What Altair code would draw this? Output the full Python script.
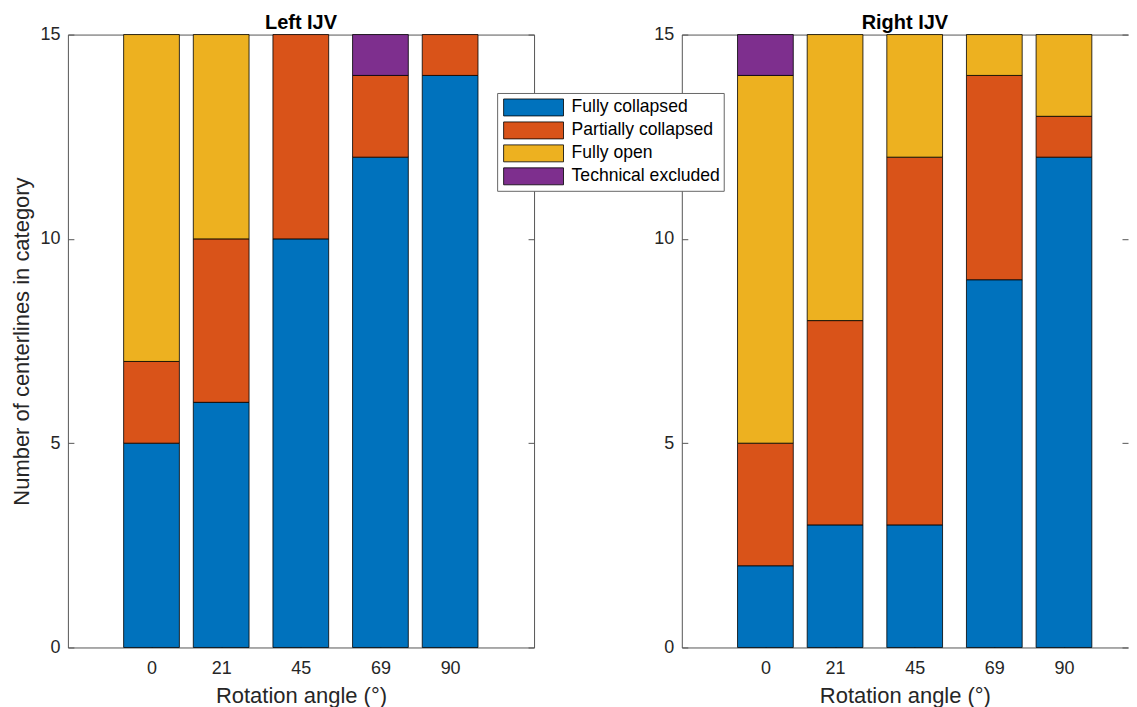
import altair as alt
import pandas as pd

# ---- data ----
angles = [0, 21, 45, 69, 90]
categories = ["Fully collapsed", "Partially collapsed", "Fully open", "Technical excluded"]
colors = ["#0072BD", "#D95319", "#EDB120", "#7E2F8E"]

left_fully_collapsed = [5, 6, 10, 12, 14]
left_partially_collapsed = [2, 4, 5, 2, 1]
left_fully_open = [8, 5, 0, 0, 0]
left_technical_excluded = [0, 0, 0, 1, 0]

right_fully_collapsed = [2, 3, 3, 9, 12]
right_partially_collapsed = [3, 5, 9, 5, 1]
right_fully_open = [9, 7, 3, 1, 2]
right_technical_excluded = [1, 0, 0, 0, 0]

y_ticks = [0, 5, 10, 15]
left_x_domain = [-25.2, 115.3]
right_x_domain = [-25.2, 109.3]
y_domain = [0, 15]
bar_half_width = 8.4

FONT = "Liberation Sans"
FRAME = "#555555"
H = 614
LEFT_W, RIGHT_W = 467, 447


def make_df(series):
    rows = []
    for order, (cat, vals) in enumerate(zip(categories, series)):
        for a, v in zip(angles, vals):
            if v > 0:
                rows.append({"angle": a, "category": cat, "order": order, "count": v})
    return pd.DataFrame(rows)


legend = alt.Legend(
    orient="none", legendX=430, legendY=58.5, title=None,
    symbolType="M-1,-0.283L1,-0.283L1,0.283L-1,0.283Z", symbolSize=3600,
    clipHeight=23, rowPadding=0, symbolOffset=3, labelOffset=7.6, padding=3,
    strokeColor="#666666", fillColor="white",
    labelFont=FONT, labelFontSize=17.6, labelColor="black", labelLimit=400,
    symbolStrokeColor="black", symbolStrokeWidth=0.8, symbolOpacity=1,
)


def panel(df, title, ytitle, x_domain, width, open_right=False):
    xs = alt.Scale(domain=x_domain, nice=False, zero=False)
    ys = alt.Scale(domain=y_domain, nice=False, zero=False)
    base = alt.Chart(df).transform_stack(
        stack="count", groupby=["angle"], as_=["y0", "y1"],
        sort=[alt.SortField("order", order="ascending")],
    ).transform_calculate(
        x0=f"datum.angle - {bar_half_width}", x1=f"datum.angle + {bar_half_width}"
    )
    yaxis_kwargs = dict(
        values=y_ticks, orient="left", offset=-6, tickSize=6, domain=False, grid=False,
        tickColor=FRAME, labelPadding=8, labelFont=FONT, labelFontSize=18,
        labelColor="#262626",
    )
    if ytitle:
        yaxis_kwargs.update(title=ytitle, titleFont=FONT, titleFontSize=22,
                            titleFontWeight="normal", titleColor="#262626",
                            titlePadding=6)
    else:
        yaxis_kwargs.update(title=None)
    bars = base.mark_bar(stroke="black", strokeWidth=0.8).encode(
        x=alt.X("x0:Q", scale=xs, axis=alt.Axis(
            values=angles, title="Rotation angle (°)", orient="bottom", offset=-6,
            tickSize=6, domain=False, grid=False, tickColor=FRAME, labelPadding=12.5,
            labelFont=FONT, labelFontSize=18, labelColor="#262626",
            titleFont=FONT, titleFontSize=22, titleFontWeight="normal",
            titleColor="#262626", titlePadding=8)),
        x2="x1:Q",
        y=alt.Y("y0:Q", scale=ys, axis=alt.Axis(**yaxis_kwargs)),
        y2="y1:Q",
        color=alt.Color("category:N", scale=alt.Scale(domain=categories, range=colors),
                        legend=legend),
    )
    ticks = base.mark_bar(opacity=0).encode(
        x=alt.X("x0:Q", scale=xs, axis=alt.Axis(
            values=angles, orient="top", offset=-6, tickSize=6, labels=False,
            domain=False, grid=False, title=None, tickColor=FRAME)),
        x2="x1:Q",
        y=alt.Y("y0:Q", scale=ys, axis=alt.Axis(
            values=y_ticks, orient="right", offset=-6, tickSize=6, labels=False,
            domain=False, grid=False, title=None, tickColor=FRAME)),
        y2="y1:Q",
    )
    if open_right:
        # frame drawn on top, bottom and left only (the panel runs off the page edge)
        view = alt.ViewBackground(stroke=FRAME, strokeWidth=1,
                                  strokeDash=[width, H, width + H])
    else:
        view = alt.ViewBackground(stroke=FRAME, strokeWidth=1)
    return alt.layer(bars, ticks).resolve_axis(x="independent", y="independent").properties(
        width=width, height=H, view=view,
        title=alt.TitleParams(title, font=FONT, fontSize=20, fontWeight="bold",
                              color="black", offset=-7.2, frame="group"),
    )


left_df = make_df([left_fully_collapsed, left_partially_collapsed,
                   left_fully_open, left_technical_excluded])
right_df = make_df([right_fully_collapsed, right_partially_collapsed,
                    right_fully_open, right_technical_excluded])

chart = alt.hconcat(
    panel(left_df, "Left IJV", "Number of centerlines in category", left_x_domain, LEFT_W),
    panel(right_df, "Right IJV", None, right_x_domain, RIGHT_W, open_right=True),
    spacing=118,
).properties(
    padding={"left": 2, "top": 3, "right": 0, "bottom": 0},
    background="white",
)

chart.save("out.html", embed_options={"renderer": "svg", "actions": False})
